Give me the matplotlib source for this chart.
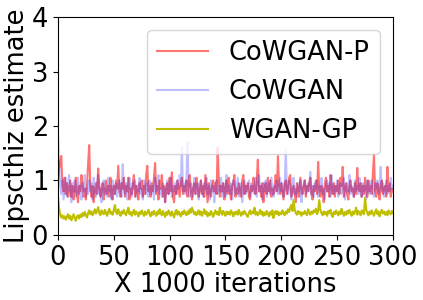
import numpy as np
import matplotlib
matplotlib.use("Agg")
import matplotlib.pyplot as plt

# one value per 1000 iterations
cowgan_p = [1.0, 1.2, 1.35, 1.45, 0.9, 0.8, 1.05, 0.75, 0.95, 0.7,
            0.85, 1.0, 0.7, 0.9, 0.65, 0.8, 1.05, 0.75, 0.6, 0.9,
            0.8, 1.1, 0.95, 0.7, 0.85, 0.65, 0.9, 1.3, 1.65, 0.85,
            0.7, 0.9, 0.6, 0.8, 0.95, 0.75, 1.22, 0.9, 0.7, 0.85,
            0.95, 0.65, 0.8, 1.0, 0.75, 0.9, 0.7, 1.05, 0.8, 0.65,
            0.9, 0.75, 1.0, 0.85, 1.27, 0.8, 0.7, 0.95, 0.85, 1.05,
            0.7, 0.9, 0.8, 1.05, 0.65, 0.85, 0.75, 0.95, 1.1, 0.7,
            0.9, 0.8, 0.65, 0.95, 0.85, 1.0, 0.7, 0.9, 0.75, 1.1,
            1.27, 0.8, 0.9, 0.7, 0.95, 0.8, 1.05, 1.32, 0.75, 0.9,
            0.65, 1.0, 0.85, 1.1, 0.7, 0.9, 0.6, 0.85, 0.95, 0.75,
            1.05, 0.8, 1.15, 0.7, 0.6, 0.9, 0.75, 1.0, 0.85, 0.7,
            0.95, 1.05, 0.75, 0.9, 0.8, 1.0, 0.7, 0.95, 1.1, 0.8,
            0.65, 0.85, 0.95, 0.75, 1.05, 0.9, 0.7, 0.8, 1.0, 0.75,
            0.9, 0.7, 1.1, 0.85, 0.6, 0.95, 0.8, 0.7, 0.9, 1.0,
            0.8, 0.95, 0.75, 1.6, 1.05, 0.7, 0.9, 0.8, 0.95, 0.65,
            0.85, 1.0, 0.75, 1.05, 0.8, 0.65, 0.9, 0.95, 1.1, 0.7,
            0.85, 0.75, 0.95, 0.8, 0.7, 1.0, 1.1, 0.75, 0.9, 0.8,
            0.95, 0.7, 0.65, 0.9, 0.8, 1.05, 0.85, 0.75, 1.0, 1.38,
            0.8, 0.9, 0.7, 0.95, 0.6, 0.85, 0.95, 0.75, 1.05, 0.8,
            1.0, 0.7, 0.85, 0.75, 0.9, 1.1, 0.8, 1.45, 0.9, 0.75,
            0.95, 0.8, 0.65, 0.9, 1.0, 0.75, 0.85, 1.05, 1.1, 0.7,
            0.8, 0.9, 0.75, 0.6, 0.95, 0.85, 0.7, 1.05, 0.9, 0.75,
            0.85, 1.0, 0.7, 0.9, 0.8, 0.95, 1.05, 0.75, 0.65, 0.9,
            0.8, 1.0, 0.75, 1.34, 0.85, 0.7, 0.9, 0.8, 0.6, 0.95,
            1.05, 0.8, 0.9, 0.7, 1.1, 0.85, 0.75, 0.95, 0.7, 0.9,
            0.8, 1.0, 0.75, 1.05, 0.9, 1.25, 0.7, 0.85, 0.95, 0.75,
            0.65, 0.9, 1.0, 0.8, 0.85, 0.7, 0.95, 0.75, 1.23, 0.85,
            0.8, 0.95, 0.7, 0.9, 0.75, 1.05, 0.85, 0.7, 1.0, 0.8,
            0.9, 0.75, 1.1, 1.48, 0.8, 0.7, 0.95, 0.85, 0.65, 0.9,
            1.0, 0.75, 0.85, 0.9, 0.7, 1.25, 0.8, 0.95, 0.7, 0.85,
            0.8]

cowgan = [1.87, 1.3, 0.9, 0.75, 1.0, 0.65, 0.85, 1.05, 0.7, 0.9,
          1.1, 0.75, 0.6, 0.95, 0.8, 1.0, 0.7, 0.85, 1.05, 0.75,
          0.9, 0.65, 0.95, 0.8, 1.1, 0.7, 0.85, 0.75, 1.0, 0.8,
          0.95, 0.65, 1.05, 0.8, 0.7, 0.9, 1.1, 0.75, 0.85, 0.6,
          0.9, 1.0, 0.75, 0.85, 0.7, 1.05, 0.8, 0.9, 0.65, 1.0,
          0.85, 0.75, 0.95, 0.7, 0.9, 1.0, 0.8, 0.7, 1.3, 0.85,
          0.75, 0.95, 0.65, 0.9, 1.05, 0.8, 0.7, 0.95, 0.85, 1.0,
          0.7, 0.9, 0.8, 1.05, 0.75, 0.85, 0.65, 1.0, 0.9, 0.75,
          0.95, 0.7, 1.0, 0.85, 0.75, 0.9, 0.65, 1.05, 0.8, 0.9,
          1.1, 0.75, 0.85, 0.7, 0.95, 0.8, 0.6, 0.9, 1.0, 0.75,
          0.85, 1.05, 0.7, 0.9, 0.8, 0.95, 0.75, 1.0, 0.85, 1.1,
          0.9, 1.61, 0.8, 0.95, 0.75, 1.0, 1.7, 0.85, 0.7, 0.95,
          0.8, 0.7, 1.05, 0.85, 0.75, 0.95, 0.65, 0.9, 1.0, 0.8,
          0.7, 0.95, 0.85, 1.05, 0.75, 0.9, 0.65, 1.0, 0.8, 0.9,
          0.6, 0.85, 1.0, 0.75, 0.9, 0.8, 1.05, 0.7, 0.95, 0.85,
          0.7, 1.1, 0.8, 0.9, 0.75, 0.95, 0.65, 1.0, 0.85, 0.75,
          0.9, 1.05, 0.7, 0.85, 0.95, 0.6, 0.8, 1.0, 0.75, 0.9,
          0.85, 1.0, 0.7, 0.95, 0.8, 0.9, 0.75, 1.05, 0.7, 0.85,
          1.1, 0.8, 0.9, 0.65, 0.95, 0.8, 1.0, 0.7, 0.85, 0.95,
          0.75, 1.05, 0.85, 0.7, 0.9, 0.8, 1.0, 0.75, 0.9, 1.05,
          0.8, 0.95, 0.7, 0.9, 1.56, 0.85, 0.75, 1.0, 0.8, 0.65,
          0.9, 1.05, 0.75, 0.85, 0.7, 0.95, 0.8, 1.0, 0.6, 0.85,
          0.9, 1.0, 0.75, 0.85, 0.95, 0.8, 1.16, 0.75, 0.9, 0.7,
          0.95, 0.85, 1.0, 0.7, 0.9, 0.8, 1.05, 0.75, 0.85, 0.65,
          0.9, 1.0, 0.8, 0.95, 0.7, 1.1, 0.85, 0.75, 0.9, 0.8,
          1.0, 0.7, 0.85, 0.95, 0.75, 0.9, 1.05, 0.65, 0.85, 0.95,
          0.8, 1.1, 0.75, 0.9, 0.85, 0.7, 1.0, 0.8, 0.9, 0.75,
          1.05, 0.85, 0.7, 0.95, 0.8, 0.9, 0.65, 1.0, 0.85, 0.75,
          0.9, 1.0, 0.8, 0.7, 0.95, 0.85, 1.0, 0.75, 0.9, 1.25,
          0.8, 0.95, 0.7, 0.85, 1.0, 0.75, 0.9, 0.8, 1.05, 0.85,
          0.9]

wgan_gp = [0.7, 0.5, 0.38, 0.32, 0.36, 0.3, 0.34, 0.28, 0.33, 0.38,
           0.3, 0.35, 0.27, 0.32, 0.38, 0.31, 0.26, 0.34, 0.36, 0.3,
           0.37, 0.33, 0.4, 0.35, 0.42, 0.36, 0.32, 0.4, 0.45, 0.38,
           0.43, 0.36, 0.41, 0.47, 0.39, 0.44, 0.51, 0.4, 0.36, 0.45,
           0.41, 0.38, 0.46, 0.4, 0.35, 0.43, 0.48, 0.39, 0.42, 0.37,
           0.45, 0.55, 0.42, 0.38, 0.47, 0.4, 0.35, 0.43, 0.39, 0.46,
           0.4, 0.36, 0.44, 0.5, 0.38, 0.42, 0.35, 0.41, 0.46, 0.37,
           0.43, 0.39, 0.34, 0.42, 0.38, 0.45, 0.4, 0.35, 0.43, 0.37,
           0.41, 0.46, 0.38, 0.34, 0.42, 0.37, 0.44, 0.39, 0.35, 0.43,
           0.38, 0.47, 0.4, 0.36, 0.44, 0.38, 0.33, 0.42, 0.37, 0.45,
           0.4, 0.35, 0.43, 0.38, 0.32, 0.41, 0.46, 0.37, 0.43, 0.39,
           0.34, 0.42, 0.38, 0.45, 0.4, 0.36, 0.43, 0.38, 0.47, 0.41,
           0.5, 0.44, 0.38, 0.42, 0.36, 0.4, 0.45, 0.37, 0.43, 0.35,
           0.41, 0.47, 0.38, 0.43, 0.34, 0.4, 0.36, 0.44, 0.39, 0.33,
           0.4, 0.45, 0.38, 0.42, 0.36, 0.5, 0.41, 0.37, 0.44, 0.39,
           0.35, 0.43, 0.38, 0.42, 0.37, 0.45, 0.4, 0.34, 0.42, 0.38,
           0.43, 0.37, 0.46, 0.4, 0.35, 0.42, 0.38, 0.44, 0.4, 0.36,
           0.33, 0.41, 0.45, 0.38, 0.43, 0.4, 0.5, 0.37, 0.42, 0.36,
           0.4, 0.46, 0.38, 0.43, 0.35, 0.41, 0.37, 0.44, 0.39, 0.34,
           0.42, 0.37, 0.45, 0.31, 0.4, 0.44, 0.38, 0.43, 0.36, 0.41,
           0.38, 0.45, 0.4, 0.36, 0.43, 0.39, 0.47, 0.42, 0.5, 0.55,
           0.44, 0.64, 0.46, 0.4, 0.37, 0.44, 0.39, 0.42, 0.35, 0.41,
           0.38, 0.44, 0.4, 0.36, 0.47, 0.41, 0.37, 0.43, 0.39, 0.45,
           0.42, 0.48, 0.38, 0.44, 0.64, 0.46, 0.4, 0.36, 0.43, 0.38,
           0.42, 0.35, 0.44, 0.4, 0.46, 0.37, 0.33, 0.42, 0.38, 0.45,
           0.4, 0.36, 0.43, 0.38, 0.48, 0.41, 0.35, 0.42, 0.37, 0.44,
           0.39, 0.46, 0.4, 0.35, 0.43, 0.38, 0.42, 0.5, 0.37, 0.44,
           0.4, 0.36, 0.45, 0.41, 0.38, 0.68, 0.47, 0.4, 0.36, 0.43,
           0.38, 0.45, 0.4, 0.35, 0.42, 0.47, 0.38, 0.43, 0.34, 0.41,
           0.46, 0.39, 0.43, 0.37, 0.42, 0.36, 0.45, 0.4, 0.38, 0.44,
           0.4]

iters = np.arange(len(cowgan_p))

fig = plt.figure(figsize=(4.23, 3.0), dpi=100)
ax = fig.add_axes([0.137, 0.217, 0.792, 0.726])

ax.plot(iters, cowgan_p, color='red', alpha=0.55, linewidth=1.5, label='CoWGAN-P')
ax.plot(iters, cowgan, color='blue', alpha=0.25, linewidth=1.5, label='CoWGAN')
ax.plot(iters, wgan_gp, color='y', linewidth=1.5, label='WGAN-GP')

ax.set_xlim(0, 300)
ax.set_ylim(0, 4)
ax.set_xticks(range(0, 301, 50))
ax.set_yticks(range(0, 5))
ax.tick_params(labelsize=18.5)
ax.set_xlabel('X 1000 iterations', fontsize=18.5, labelpad=1)
ax.set_ylabel('Lipscthiz estimate', fontsize=18.5, labelpad=1)
ax.legend(loc='upper right', fontsize=18.5)

fig.savefig('out.png', dpi=100)
